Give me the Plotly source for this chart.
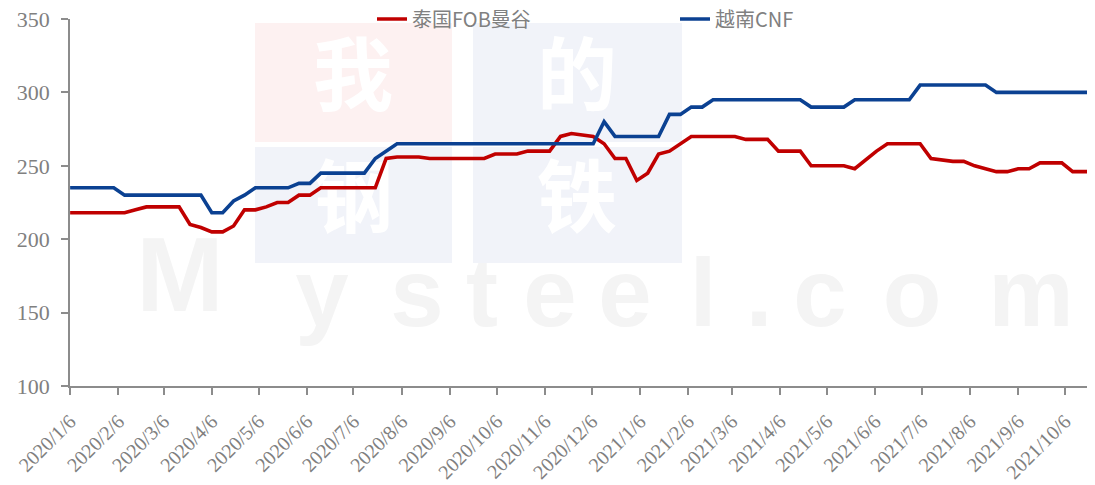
import pandas as pd
import plotly.graph_objects as go

# ---------------- data ----------------
start_date = "2020-01-06"
n_weeks = 95
dates = pd.date_range(start_date, periods=n_weeks, freq="7D")

thai_fob = [218, 218, 218, 218, 218, 218, 220, 222, 222, 222,
            222, 210, 208, 205, 205, 209, 220, 220, 222, 225,
            225, 230, 230, 235, 235, 235, 235, 235, 235, 255,
            256, 256, 256, 255, 255, 255, 255, 255, 255, 258,
            258, 258, 260, 260, 260, 270, 272, 271, 270, 265,
            255, 255, 240, 245, 258, 260, 265, 270, 270, 270,
            270, 270, 268, 268, 268, 260, 260, 260, 250, 250,
            250, 250, 248, 254, 260, 265, 265, 265, 265, 255,
            254, 253, 253, 250, 248, 246, 246, 248, 248, 252,
            252, 252, 246, 246, 246]

vietnam_cnf = [235, 235, 235, 235, 235, 230, 230, 230, 230, 230,
               230, 230, 230, 218, 218, 226, 230, 235, 235, 235,
               235, 238, 238, 245, 245, 245, 245, 245, 255, 260,
               265, 265, 265, 265, 265, 265, 265, 265, 265, 265,
               265, 265, 265, 265, 265, 265, 265, 265, 265, 280,
               270, 270, 270, 270, 270, 285, 285, 290, 290, 295,
               295, 295, 295, 295, 295, 295, 295, 295, 290, 290,
               290, 290, 295, 295, 295, 295, 295, 295, 305, 305,
               305, 305, 305, 305, 305, 300, 300, 300, 300, 300,
               300, 300, 300, 300, 300]

series_names = ["泰国FOB曼谷", "越南CNF"]
series_colors = ["#C00000", "#0B4192"]

tick_dates = pd.date_range("2020-01-01", "2021-10-01", freq="MS") + pd.Timedelta(days=5)
tick_labels = [f"{d.year}/{d.month}/{d.day}" for d in tick_dates]

y_ticks = [100, 150, 200, 250, 300, 350]

# ---------------- geometry ----------------
OFF = 8                       # page body margin
W, H = 1095 - OFF, 485 - OFF
ML, MR, MT, MB = 62, 0, 11, 99
# plot area in screen pixels
SX0, SX1 = OFF + ML, OFF + W - MR
SY0, SY1 = OFF + MT, OFF + H - MB

x_start = pd.Timestamp(start_date) - pd.Timedelta(hours=2)
x_end = pd.Timestamp("2021-10-25 08:00")


def px_x(X):
    return (X - SX0) / (SX1 - SX0)


def px_y(Y):
    return (SY1 - Y) / (SY1 - SY0)


def px_to_date(X):
    return x_start + (x_end - x_start) * px_x(X)


def px_to_val(Y):
    return 100 + px_y(Y) * 250


fig = go.Figure()

# ---------------- watermark (behind the data) ----------------
blocks = [(255, 23, 452, 142, "#FDF1F1"), (473, 23, 682, 142, "#F1F3F9"),
          (255, 147, 452, 263, "#F1F3F9"), (473, 147, 682, 263, "#F1F3F9")]
for x0, y0, x1, y1, c in blocks:
    fig.add_shape(type="rect", xref="paper", yref="paper",
                  x0=px_x(x0), x1=px_x(x1), y0=px_y(y1), y1=px_y(y0),
                  fillcolor=c, line=dict(width=0), layer="below")

wm_chars = ["我", "的", "钢", "铁"]
wm_cx = [353, 577, 353, 577]
wm_cy = [84, 84, 206, 206]
fig.add_trace(go.Scatter(
    x=[px_to_date(v) for v in wm_cx], y=[px_to_val(v) for v in wm_cy],
    mode="text", text=wm_chars,
    textfont=dict(family="Noto Sans CJK SC", size=80, color="white", weight="bold"),
    hoverinfo="skip", showlegend=False, cliponaxis=False))

ms_chars = list("Mysteel.com")
ms_cx = [180, 322, 417, 482, 550, 625, 703, 759, 820, 912, 1031]
ms_cy = [285, 302, 302, 302, 302, 302, 302, 302, 302, 302, 302]
ms_sz = [105, 96, 96, 96, 96, 96, 96, 96, 96, 96, 96]
fig.add_trace(go.Scatter(
    x=[px_to_date(v) for v in ms_cx], y=[px_to_val(v) for v in ms_cy],
    mode="text", text=ms_chars,
    textfont=dict(family="Liberation Sans", size=ms_sz, color="#F4F4F4", weight="bold"),
    hoverinfo="skip", showlegend=False, cliponaxis=False))

# ---------------- data lines ----------------
for name, vals, col in zip(series_names, [thai_fob, vietnam_cnf], series_colors):
    fig.add_trace(go.Scatter(x=dates, y=vals, name=name, mode="lines",
                             line=dict(color=col, width=3.6)))

x_font = dict(family="Liberation Serif", size=20, color="#808080")
y_font = dict(family="Liberation Serif", size=22, color="#808080")
fig.update_layout(
    width=W, height=H,
    margin=dict(l=ML, r=MR, t=MT, b=MB, pad=0, autoexpand=False),
    paper_bgcolor="white", plot_bgcolor="white",
    showlegend=True,
    legend=dict(orientation="h", x=px_x(372), y=px_y(19), xanchor="left", yanchor="middle",
                font=dict(family="Noto Sans CJK SC", size=20, color="#808080"),
                entrywidth=258, entrywidthmode="pixels", bgcolor="rgba(0,0,0,0)"),
    xaxis=dict(type="date", range=[x_start, x_end], tickvals=list(tick_dates), ticktext=tick_labels,
               tickangle=-45, tickfont=x_font, showgrid=False, zeroline=False,
               showline=True, linecolor="#8C8C8C", linewidth=1.5,
               ticks="outside", ticklen=7, tickcolor="#8C8C8C", tickwidth=1.5,
               ticklabelstandoff=7, ticklabeloverflow="allow"),
    yaxis=dict(range=[100, 350], tickvals=y_ticks, tickfont=y_font, showgrid=False, zeroline=False,
               showline=True, linecolor="#8C8C8C", linewidth=1.5,
               ticks="outside", ticklen=7, tickcolor="#8C8C8C", tickwidth=1.5,
               ticklabelstandoff=7, ticklabeloverflow="allow"),
)

fig.write_html("out.html")
